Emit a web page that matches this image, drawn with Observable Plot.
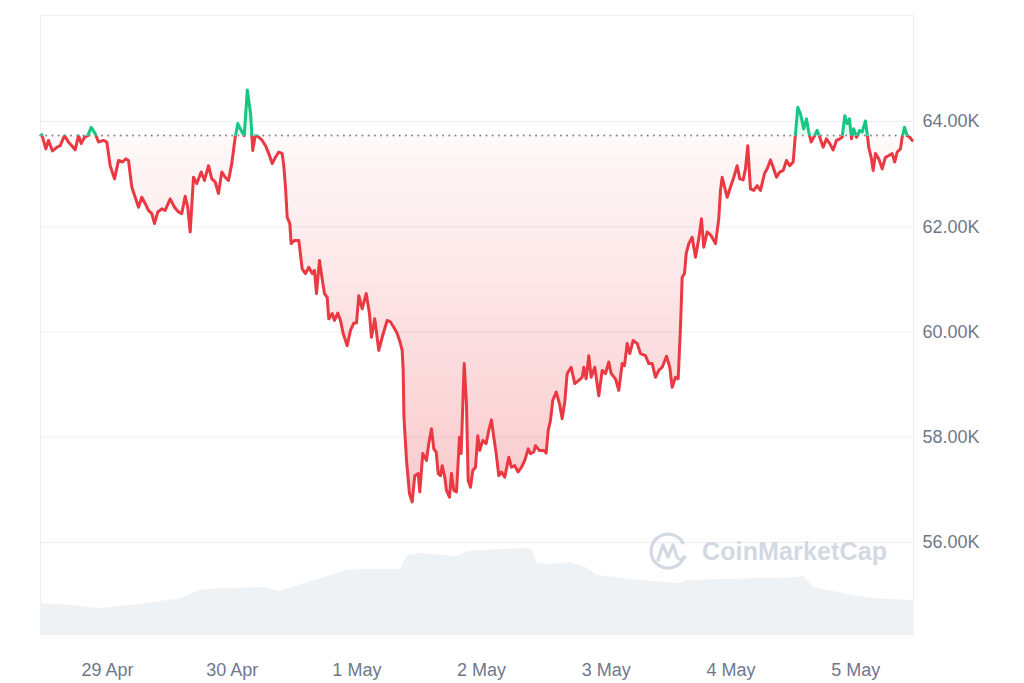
<!DOCTYPE html>
<html><head><meta charset="utf-8">
<script src="https://cdn.jsdelivr.net/npm/d3@7"></script>
<script src="https://cdn.jsdelivr.net/npm/@observablehq/plot@0.6"></script>
<style>body{margin:0;background:#fff;} #chart{width:1024px;height:683px;}</style>
</head><body><div id="chart"></div>
<script>
// hours since 2024-04-28 00:00 UTC
const startMs = Date.UTC(2024, 3, 28);
const hours = [11.36,12.13,12.64,13.41,14.24,14.9,15.72,16.63,17.13,17.78,18.42,18.94,19.57,20.21,20.86,21.63,22.27,23.23,23.87,24.52,25.35,26.12,26.89,27.52,28.04,28.68,29.33,29.97,30.6,31.26,31.89,32.53,33.05,33.68,34.45,35.1,36.07,36.89,37.66,38.3,38.95,39.45,39.92,40.55,41.19,42.03,42.67,43.44,44.07,44.73,45.36,46,46.65,47.29,47.92,48.58,49.08,49.89,50.31,50.91,51.56,51.96,52.43,52.93,53.77,54.41,55.04,55.7,56.33,56.97,57.62,57.93,58.26,58.59,59.09,59.35,59.99,60.82,61.47,62.11,62.74,63.4,63.84,64.22,64.8,65.32,65.76,66.28,66.59,67.25,67.69,68.32,68.84,69.36,70.13,70.77,71.4,71.92,72.37,73.02,73.79,74.42,74.81,75.44,76.21,76.87,77.83,78.47,79.1,79.76,80.39,80.72,80.91,81.06,81.55,82.12,82.64,83.14,83.8,84.11,84.68,85.39,85.84,86.36,86.8,87.26,87.65,88.09,88.42,88.92,89.24,89.82,90.21,90.65,91.17,91.75,92.07,92.65,93.09,93.42,93.86,94.31,94.83,95.27,95.65,96.23,96.88,97.39,97.9,98.35,98.81,99.31,99.83,100.46,101.23,101.75,102.39,103.04,103.68,104.31,104.97,105.41,106.05,106.37,107.14,107.97,108.43,108.82,109.26,109.7,110.36,110.99,111.51,112.01,112.47,113.24,113.94,114.71,115.36,115.67,116.13,116.63,117.09,117.79,118.56,119.21,119.85,120.48,120.94,121.77,122.41,123.06,123.5,124.02,124.52,125.18,125.95,126.58,127.54,128.18,128.83,129.47,130.1,130.76,131.59,132.22,132.68,133.32,133.84,134.28,134.61,135.05,135.38,135.88,136.53,137.17,137.8,138.32,138.76,139.42,140.19,141.02,141.65,141.98,142.3,143.27,143.9,144.54,145.19,145.69,146.35,146.79,147.23,147.75,148.39,149.04,149.68,150.45,150.97,151.6,152.12,152.76,153.39,154.05,154.68,155.31,155.97,156.41,156.86,157.37,158.01,158.53,158.97,159.43,159.93,160.59,161.09,161.74,162.38,163.01,163.67,164.3,164.94,165.4,165.9,166.36,166.81,167.19,167.63,168.15,168.79,169.25,169.88,170.21,170.52,170.98,171.37,171.81,172.44,173.1,173.73,174.37,175.02,175.52,175.99,176.62,176.95,177.39,177.91,178.41,178.87];
const prices = [63750,63480,63640,63440,63510,63540,63730,63590,63540,63460,63730,63580,63700,63730,63890,63770,63610,63640,63610,63160,62910,63260,63230,63290,63260,62750,62560,62370,62560,62440,62310,62250,62060,62280,62340,62310,62530,62370,62280,62250,62580,62370,61900,62940,62820,63040,62880,63160,62910,62850,62630,63040,62940,62880,63200,63700,63960,63800,63730,64600,64130,63450,63730,63720,63640,63540,63390,63200,63320,63420,63390,63160,62750,62180,62060,61680,61740,61740,61200,61110,61230,61110,61170,60730,61360,61010,60730,60660,60250,60350,60220,60360,60220,59970,59740,60030,60170,60170,60690,60440,60730,60350,59900,60250,59650,59900,60220,60190,60090,59970,59780,59650,59270,58380,57560,56930,56770,57270,57310,56960,57690,57560,57880,58160,57780,57720,57310,57270,57460,57240,56990,56860,57310,56990,56960,58000,57690,59400,58640,57180,57050,57370,57430,58030,57750,57940,57880,58130,58330,58000,57690,57270,57340,57240,57620,57430,57460,57340,57430,57560,57780,57690,57720,57840,57750,57750,57700,58130,58320,58700,58860,58640,58350,58670,59210,59330,59020,59080,59140,59330,59110,59550,59140,59330,58790,59270,59210,59430,59210,59110,58890,59400,59360,59780,59590,59840,59780,59590,59550,59400,59400,59140,59270,59330,59540,59330,58950,59140,59110,60090,61040,61110,61490,61680,61800,61420,61770,62150,61610,61900,61830,61680,62150,62690,62940,62560,62750,62940,63160,62910,62890,63100,63540,62720,62690,62780,62690,63010,63100,63270,63130,62940,63040,63070,63260,63160,63230,63770,64270,64150,63860,64050,63800,63610,63700,63830,63700,63510,63670,63580,63460,63640,63670,63700,64110,63960,64050,63670,63860,63700,63830,63800,64010,63770,63510,63320,63070,63390,63290,63100,63320,63350,63390,63230,63420,63480,63700,63890,63730,63700,63640];
const openPrice = 63734;
// 24h volume (billion USD)
const volHours = [11.1,14.95,22.08,24.58,30.35,38.05,41.9,45.75,54.02,57.3,62.5,70.19,72.69,80.39,81.74,84.24,91.36,93.29,99.64,104.83,105.8,106.76,109.26,113.11,116.38,118.31,126.58,134.28,135.63,149.68,156.8,157.95,159.88,167.58,170.85,179.1];
const volumes = [15.5,15,13,13.5,15,18,22,23,23.5,21.5,26,32,32.5,32.5,39.5,40.5,39,41.5,42.5,43,42,35.5,35,36,33,29.5,27,25.5,27,28,28.5,29,23.5,19.5,18,17];
const yTicks = [56000,58000,60000,62000,64000];
const xTickDays = ["2024-04-29","2024-04-30","2024-05-01","2024-05-02","2024-05-03","2024-05-04","2024-05-05"];
const watermark = "CoinMarketCap";

const toDate = h => new Date(startMs + h * 3600e3);
const data = prices.map((p, i) => ({date: toDate(hours[i]), price: p}));
const yMin = 54252, yMax = 66014;
const volScale = d3.scaleLinear().domain([0, 50]).range([yMin, yMin + 1900]);
const vol = volumes.map((v, i) => ({date: toDate(volHours[i]), v: volScale(v)}));

const plot = Plot.plot({
  width: 1024, height: 683,
  marginLeft: 40, marginRight: 111, marginTop: 15, marginBottom: 49,
  style: {fontFamily: "'Liberation Sans', Arial, sans-serif", fontSize: "18px", color: "#6f788b", background: "#fff"},
  x: {type: "utc", domain: [toDate(11.105), toDate(179.13)], ticks: xTickDays.map(d => new Date(d + "T00:00:00Z")),
      tickFormat: d3.utcFormat("%-d %b"), tickSize: 0, tickPadding: 29, label: null},
  y: {domain: [yMin, yMax], axis: "right", ticks: yTicks, tickFormat: d => (d / 1000).toFixed(2) + "K",
      tickSize: 0, tickPadding: 9, label: null},
  marks: [
    Plot.ruleY(yTicks, {stroke: "#eceef2", strokeWidth: 1}),
    Plot.frame({stroke: "#eceef2"}),
    Plot.areaY(vol, {x: "date", y1: yMin, y2: "v", fill: "#eff2f5"}),
    Plot.areaY(data, {x: "date", y1: openPrice, y2: d => Math.min(d.price, openPrice), fill: "url(#redGrad)"}),
    Plot.areaY(data, {x: "date", y1: openPrice, y2: d => Math.max(d.price, openPrice), fill: "url(#greenGrad)"}),
    Plot.ruleY([openPrice], {stroke: "#80868f", strokeWidth: 1.8, strokeDasharray: "0.2,6", strokeLinecap: "round"}),
    Plot.line(data, {x: "date", y: "price", stroke: "#ea3943", strokeWidth: 3, strokeLinejoin: "round", ariaDescription: "line-red"}),
    Plot.line(data, {x: "date", y: "price", stroke: "#16c784", strokeWidth: 3, strokeLinejoin: "round", ariaDescription: "line-green"})
  ]
});

const svg = d3.select(plot.tagName.toLowerCase() === "svg" ? plot : plot.querySelector("svg"));
const ys = plot.scale("y");
const yb = ys.apply(openPrice);
const defs = svg.insert("defs", ":first-child");
const rg = defs.append("linearGradient").attr("id", "redGrad").attr("gradientUnits", "userSpaceOnUse")
  .attr("x1", 0).attr("x2", 0).attr("y1", yb).attr("y2", ys.apply(56800));
rg.append("stop").attr("offset", 0).attr("stop-color", "#ea3943").attr("stop-opacity", 0.03);
rg.append("stop").attr("offset", 1).attr("stop-color", "#ea3943").attr("stop-opacity", 0.27);
const gg = defs.append("linearGradient").attr("id", "greenGrad").attr("gradientUnits", "userSpaceOnUse")
  .attr("x1", 0).attr("x2", 0).attr("y1", ys.apply(64600)).attr("y2", yb);
gg.append("stop").attr("offset", 0).attr("stop-color", "#16c784").attr("stop-opacity", 0.3);
gg.append("stop").attr("offset", 1).attr("stop-color", "#16c784").attr("stop-opacity", 0.08);
defs.append("clipPath").attr("id", "clipAbove").append("rect")
  .attr("x", 0).attr("y", 0).attr("width", 1024).attr("height", yb);
defs.append("clipPath").attr("id", "clipBelow").append("rect")
  .attr("x", 0).attr("y", yb).attr("width", 1024).attr("height", 683 - yb);
svg.selectAll('[aria-description="line-red"]').attr("clip-path", "url(#clipBelow)");
svg.selectAll('[aria-description="line-green"]').attr("clip-path", "url(#clipAbove)");

// watermark
const wm = svg.append("g").attr("fill", "none").attr("stroke", "#d3d9e3");
wm.append("path").attr("stroke-width", 3.2).attr("stroke-linecap", "round")
  .attr("d", "M684,557 A17,17 0 1 1 683,543");
wm.append("path").attr("stroke-width", 3.2).attr("stroke-linecap", "round").attr("stroke-linejoin", "round")
  .attr("d", "M658,560 L663,545 L668,557 L673,545 L677,557 Q680,562 685,557");
svg.append("text").attr("x", 702).attr("y", 560).attr("fill", "#d3d9e3").attr("text-anchor", "start")
  .attr("font-family", "'Liberation Sans', Arial, sans-serif").attr("font-size", 25).attr("font-weight", 700)
  .attr("textLength", 185).text(watermark);

document.getElementById("chart").appendChild(plot);
</script>
</body></html>
